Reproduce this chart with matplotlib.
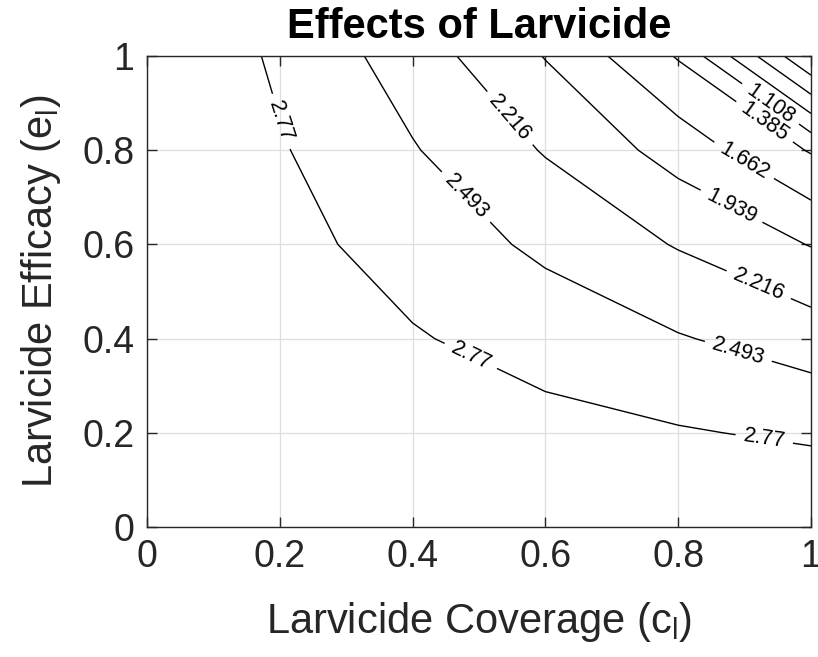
import matplotlib
matplotlib.use("Agg")
import matplotlib.pyplot as plt
import numpy as np

# Larvicide coverage (c_l) and efficacy (e_l) grid
coverage = [0.0, 0.2, 0.4, 0.6, 0.8, 1.0]
efficacy = [0.0, 0.2, 0.4, 0.6, 0.8, 1.0]

# Reproduction number on the grid: rows follow efficacy, columns follow coverage
r_values = [
    [3.047, 3.047, 3.047, 3.047, 3.047, 3.047],
    [3.047, 2.9854, 2.9226, 2.8583, 2.7926, 2.7253],
    [3.047, 2.9226, 2.7926, 2.6563, 2.5126, 2.3602],
    [3.047, 2.8583, 2.6563, 2.4376, 2.1972, 1.9271],
    [3.047, 2.7926, 2.5126, 2.1972, 1.8282, 1.3627],
    [3.047, 2.7253, 2.3602, 1.9271, 1.3627, 0.0],
]

contour_levels = [0.277, 0.554, 0.831, 1.108, 1.385, 1.662, 1.939, 2.216, 2.493, 2.77]

# Where the inline level labels sit
label_spots = [
    (0.20, 0.86), (0.49, 0.37), (0.93, 0.19),
    (0.48, 0.70), (0.89, 0.37),
    (0.54, 0.86), (0.92, 0.51),
    (0.88, 0.68), (0.90, 0.78), (0.93, 0.86), (0.94, 0.90),
]

plt.rcParams["font.family"] = ["Liberation Sans", "DejaVu Sans"]
plt.rcParams["mathtext.fontset"] = "custom"
plt.rcParams["mathtext.rm"] = "Liberation Sans"

fig = plt.figure(figsize=(8.18, 6.57), dpi=100)
ax = fig.add_axes([0.1797, 0.1979, 0.9914 - 0.1797, 0.9148 - 0.1979])

C, E = np.meshgrid(coverage, efficacy)
Z = np.array(r_values)

cs = ax.contour(C, E, Z, levels=contour_levels, colors="black", linewidths=1.0)
ax.clabel(cs, fmt=lambda v: f"{v:.4g}", manual=label_spots, fontsize=15.5,
          inline=True, inline_spacing=8)

ax.set_xlim(0, 1)
ax.set_ylim(0, 1)
ticks = [0, 0.2, 0.4, 0.6, 0.8, 1]
ax.set_xticks(ticks)
ax.set_yticks(ticks)
ax.set_xticklabels(["0", "0.2", "0.4", "0.6", "0.8", "1"])
ax.set_yticklabels(["0", "0.2", "0.4", "0.6", "0.8", "1"])

spine_col = "#262626"
for s in ax.spines.values():
    s.set_color(spine_col)
    s.set_linewidth(1.0)
ax.tick_params(direction="in", length=7, width=1.0, color=spine_col,
               labelsize=27, labelcolor=spine_col, top=True, right=True)
ax.tick_params(axis="x", pad=9)
ax.tick_params(axis="y", pad=9)
ax.grid(True, color="#dedede", linewidth=0.9)
ax.set_axisbelow(True)

ax.set_xlabel(r"Larvicide Coverage (c$_\mathregular{l}$)", fontsize=30,
              color=spine_col, labelpad=18)
ax.set_ylabel(r"Larvicide Efficacy (e$_\mathregular{l}$)", fontsize=30,
              color=spine_col, labelpad=14)
ax.set_title("Effects of Larvicide", fontsize=30, fontweight="bold", pad=13)

fig.savefig("out.png", dpi=100)
